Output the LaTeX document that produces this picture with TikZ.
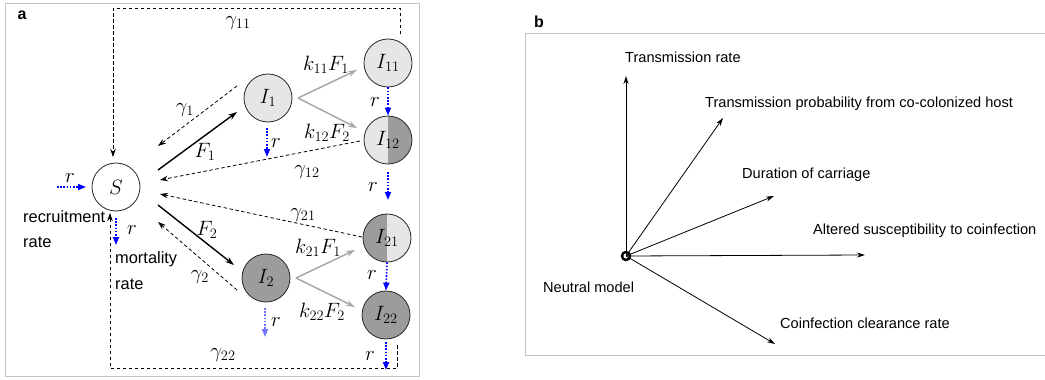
\documentclass[tikz,border=0pt]{standalone}
\usepackage{fontspec}
\newfontfamily\arial{Liberation Sans}
\usetikzlibrary{arrows.meta,calc}
\definecolor{lightfill}{HTML}{E6E6E6}
\definecolor{darkfill}{HTML}{9C9C9C}
\definecolor{grayarrow}{HTML}{A8A8A8}
\definecolor{framegray}{HTML}{C4C4C4}
\begin{document}
\begin{tikzpicture}[x=1pt,y=-1pt,
  pop/.style={circle,draw=black!85,line width=0.8pt,minimum size=48pt,inner sep=0pt,font=\huge},
  lightpop/.style={pop,fill=lightfill},
  darkpop/.style={pop,fill=darkfill},
  halfLD/.style={pop,fill=lightfill,path picture={\fill[darkfill] (path picture bounding box.north) rectangle (path picture bounding box.south east);}},
  halfDL/.style={pop,fill=darkfill,path picture={\fill[lightfill] (path picture bounding box.north) rectangle (path picture bounding box.south east);}},
  infect/.style={line width=1.4pt,-{Stealth[length=9pt,width=6pt]}},
  clear/.style={line width=0.8pt,dash pattern=on 3.5pt off 2.5pt,-{Stealth[length=8pt,width=5.5pt]}},
  coinf/.style={grayarrow,line width=1.5pt,-{Stealth[length=9pt,width=6pt]}},
  rate/.style={blue,line width=1.6pt,dash pattern=on 1.6pt off 1.6pt,-{Triangle[length=8pt,width=6pt]}},
  fadedrate/.style={rate,blue!55},
  mlab/.style={font=\huge,inner sep=0pt},
  salab/.style={font=\arial\fontsize{16.4}{19}\selectfont,inner sep=0pt,anchor=west},
  sblab/.style={font=\arial\fontsize{14.6}{17}\selectfont,inner sep=0pt,anchor=west},
  panel/.style={font=\arial\bfseries\fontsize{16}{18}\selectfont,inner sep=0pt},
  vec/.style={line width=0.8pt,-{Stealth[length=8pt,width=5pt]}},
  framestyle/.style={framegray,line width=0.9pt}
]
\useasboundingbox (0,0) rectangle (1045,380);

% ---------------- panel a ----------------
\draw[framestyle] (5,3) rectangle (419,376);
\node[panel] (la) at (22,15) {a};

\node[pop] (S) at (116,187) {$S$};
\node[lightpop] (I1) at (268,98) {$I_1$};
\node[darkpop] (I2) at (266,278) {$I_2$};
\node[lightpop] (I11) at (388,63) {$I_{11}$};
\node[halfLD] (I12) at (388,140) {$I_{12}$};
\node[halfDL] (I21) at (387,238) {$I_{21}$};
\node[darkpop] (I22) at (386,315) {$I_{22}$};

% infection arrows
\draw[infect] ($(S)+(42,-17)$) -- ($(I1)+(-31,14)$);
\draw[infect] ($(S)+(42,18)$) -- ($(I2)+(-32,-13)$);
\node[mlab] (F1) at (205,152) {$F_1$};
\node[mlab] (F2) at (207,230) {$F_2$};

% clearance arrows
\draw[clear] ($(I1)+(-31,-12)$) -- ($(S)+(42,-41)$);
\draw[clear] ($(I2)+(-29,12)$) -- ($(S)+(42,35)$);
\draw[clear] ($(I12)+(-28,1)$) -- ($(S)+(44,-7)$);
\draw[clear] ($(I21)+(-25,-1)$) -- ($(S)+(44,7)$);
\draw[clear] ($(I11)+(12,-29)$) -- ++(0,-26) -| ($(S)+(-3,-30)$);
\draw[clear] ($(I22)+(11,30)$) -- ++(0,23) -| ($(S)+(-6,26)$);
\node[mlab] (g1) at (185,110) {$\gamma_1$};
\node[mlab] (g2) at (200,277) {$\gamma_2$};
\node[mlab] (g11) at (238,23) {$\gamma_{11}$};
\node[mlab] (g12) at (307,172) {$\gamma_{12}$};
\node[mlab] (g21) at (303,215) {$\gamma_{21}$};
\node[mlab] (g22) at (223,355) {$\gamma_{22}$};

% coinfection arrows
\draw[coinf] ($(I1)+(30,0)$) -- ($(I11)+(-31,7)$);
\draw[coinf] ($(I1)+(30,0)$) -- ($(I12)+(-31,-12)$);
\draw[coinf] ($(I2)+(30,0)$) -- ($(I21)+(-32,12)$);
\draw[coinf] ($(I2)+(30,0)$) -- ($(I22)+(-31,-8)$);
\node[mlab] (k11) at (326,65) {$k_{11}F_1$};
\node[mlab] (k12) at (327,133) {$k_{12}F_2$};
\node[mlab] (k21) at (318,248) {$k_{21}F_1$};
\node[mlab] (k22) at (322,312) {$k_{22}F_2$};

% rate arrows
\draw[rate] ($(S)+(-59,0)$) -- ($(S)+(-30,0)$);
\draw[rate] ($(S)+(0,31)$) -- ($(S)+(0,58)$);
\draw[rate] ($(I1)+(-1,30)$) -- ($(I1)+(-1,59)$);
\draw[rate] (I11.south) -- (I12.north);
\draw[rate] ($(I12)+(0,32)$) -- ($(I12)+(0,60)$);
\draw[rate] (I21.south) -- (I22.north);
\draw[rate] ($(I22)+(0,27)$) -- ($(I22)+(0,55)$);
\draw[fadedrate] ($(I2)+(-1,30)$) -- ($(I2)+(-1,59)$);
\node[mlab] (r1) at (70,178) {$r$};
\node[mlab] (r2) at (132,230) {$r$};
\node[mlab] (r3) at (276,143) {$r$};
\node[mlab] (r4) at (375,102) {$r$};
\node[mlab] (r5) at (373,187) {$r$};
\node[mlab] (r6) at (276,322) {$r$};
\node[mlab] (r7) at (372,275) {$r$};
\node[mlab] (r8) at (370,356) {$r$};

\node[salab] (rec1) at (23,217) {recruitment};
\node[salab] (rec2) at (23,242) {rate};
\node[salab] (mor1) at (115,259) {mortality};
\node[salab] (mor2) at (115,284) {rate};

% ---------------- panel b ----------------
\draw[framestyle] (1045,33) -- (525,33) -- (525,355) -- (1045,355);
\node[panel] (lb) at (539,22) {b};

\node[circle,draw=black,line width=2.4pt,minimum size=8pt,inner sep=0pt] (O) at (626,256) {};
\coordinate (eT) at (626,76);
\coordinate (eP) at (723,118);
\coordinate (eD) at (774,196);
\coordinate (eA) at (865,255);
\coordinate (eC) at (775,344);
\draw[vec] (O.center) -- (eT);
\draw[vec] (O.center) -- (eP);
\draw[vec] (O.center) -- (eD);
\draw[vec] (O.center) -- (eA);
\draw[vec] (O.center) -- (eC);

\node[sblab] (tT) at (625,57) {Transmission rate};
\node[sblab] (tP) at (705,104) {Transmission probability from co-colonized host};
\node[sblab] (tD) at (742,175) {Duration of carriage};
\node[sblab] (tA) at (813,231) {Altered susceptibility to coinfection};
\node[sblab] (tN) at (543,287) {Neutral model};
\node[sblab] (tC) at (780,323) {Coinfection clearance rate};
\end{tikzpicture}
\end{document}
